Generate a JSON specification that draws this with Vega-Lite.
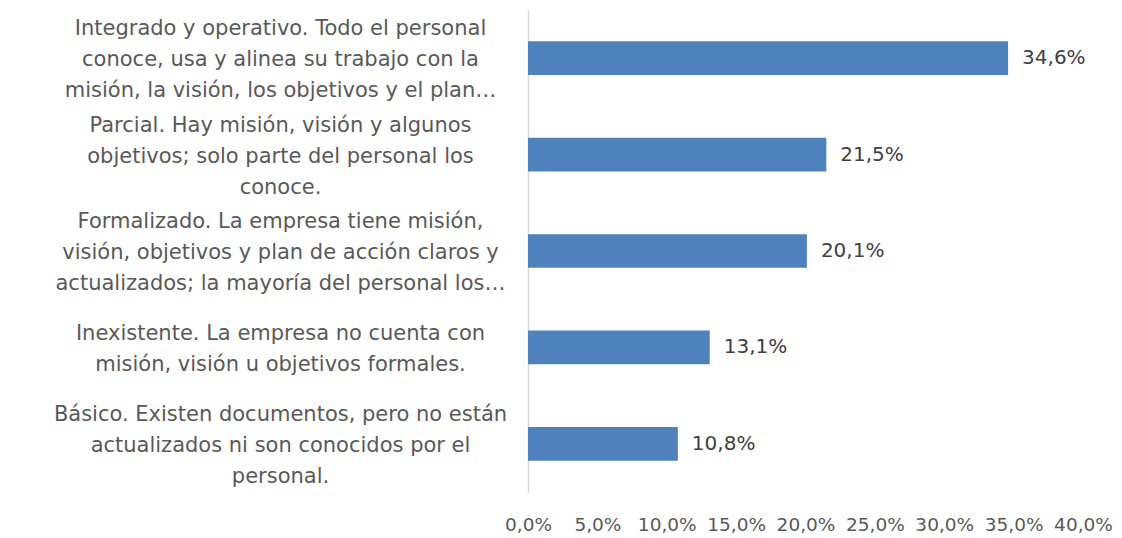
{
  "$schema": "https://vega.github.io/schema/vega-lite/v6.json",
  "width": 555,
  "height": 482,
  "autosize": "none",
  "padding": {"left": 528, "top": 10, "right": 39, "bottom": 46},
  "background": "white",
  "config": {
    "view": {"stroke": null},
    "font": "DejaVu Sans",
    "locale": {"number": {"decimal": ",", "thousands": ".", "grouping": [3], "currency": ["", " €"]}}
  },
  "data": {
    "values": [
      {"nivel": "Integrado y operativo. Todo el personal|conoce, usa y alinea su trabajo con la|misión, la visión, los objetivos y el plan…", "pct": 0.346},
      {"nivel": "Parcial. Hay misión, visión y algunos|objetivos; solo parte del personal los|conoce.", "pct": 0.215},
      {"nivel": "Formalizado.  La empresa tiene misión,|visión, objetivos y plan de acción claros y|actualizados; la mayoría del personal los…", "pct": 0.201},
      {"nivel": "Inexistente. La empresa no cuenta con|misión, visión u objetivos formales.", "pct": 0.131},
      {"nivel": "Básico. Existen documentos, pero no están|actualizados ni son conocidos por el|personal.", "pct": 0.108}
    ]
  },
  "encoding": {
    "y": {
      "field": "nivel",
      "type": "nominal",
      "sort": {"field": "pct", "order": "descending"},
      "scale": {"paddingInner": 0.65, "paddingOuter": 0.325},
      "axis": {
        "title": null,
        "ticks": false,
        "domainColor": "#D9D9D9",
        "domainWidth": 1.5,
        "labelExpr": "split(datum.label, '|')",
        "labelAlign": "center",
        "labelBaseline": "middle",
        "labelOffset": {"expr": "length(split(datum.label, '|')) > 2 ? -29 : -13.5"},
        "labelPadding": 248,
        "labelLimit": 0,
        "labelFontSize": 21,
        "labelLineHeight": 31,
        "labelColor": "#595959"
      }
    },
    "x": {
      "field": "pct",
      "type": "quantitative",
      "scale": {"domain": [0, 0.4]},
      "axis": {
        "title": null,
        "format": ".1%",
        "values": [0, 0.05, 0.1, 0.15, 0.2, 0.25, 0.3, 0.35, 0.4],
        "grid": false,
        "domain": false,
        "ticks": false,
        "labelFontSize": 18.5,
        "labelColor": "#595959",
        "labelPadding": 23,
        "labelFlush": false,
        "labelOverlap": false,
        "labelBound": false
      }
    }
  },
  "layer": [
    {"mark": {"type": "bar", "color": "#4F81BD"}},
    {
      "mark": {"type": "text", "align": "left", "dx": 14, "fontSize": 20, "color": "#404040"},
      "encoding": {"text": {"field": "pct", "type": "quantitative", "format": ".1%"}}
    }
  ]
}
